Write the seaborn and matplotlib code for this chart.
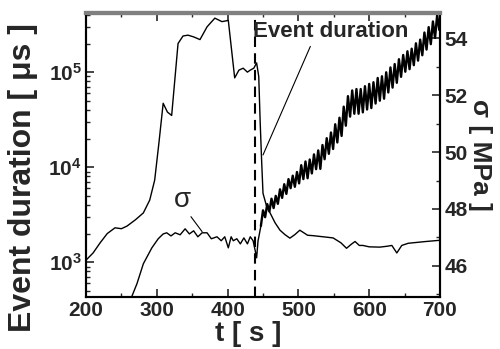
import matplotlib
matplotlib.use('Agg')
import matplotlib.pyplot as plt
from matplotlib.ticker import MultipleLocator, FixedLocator, LogLocator, NullFormatter
import pandas as pd
import seaborn as sns

sns.set_style('ticks')
plt.rcParams['font.family'] = ['Liberation Sans', 'DejaVu Sans']
plt.rcParams['mathtext.fontset'] = 'custom'
plt.rcParams['mathtext.rm'] = 'Liberation Sans'
plt.rcParams['mathtext.bf'] = 'Liberation Sans:bold'

# event duration (us), left log axis
dur_t = [200, 210, 220, 230, 241, 250, 258, 270, 281, 290, 297, 303, 309, 315, 321,
         330, 337, 344, 352, 361, 371, 382, 392, 401, 410, 416, 422, 428, 432, 437,
         441, 444, 446, 448, 450, 455, 460, 467, 474, 481, 488, 495, 502, 513, 521,
         535, 549, 560, 568, 575, 580, 586, 591, 600, 615, 625, 632, 639, 646, 655,
         662, 680, 700]
dur_us = [1050, 1250, 1600, 2000, 2300, 2250, 2400, 2800, 3300, 4500, 7300, 18000,
          47000, 38000, 35000, 200000, 240000, 245000, 235000, 220000, 300000, 370000,
          340000, 350000, 87000, 105000, 110000, 100000, 105000, 110000, 125000, 90000,
          30000, 12000, 5300, 3900, 3300, 2600, 2170, 1950, 1790, 1950, 2170, 1920, 1900,
          1850, 1800, 1600, 1400, 1550, 1650, 1500, 1500, 1450, 1440, 1470, 1500, 1250,
          1500, 1580, 1600, 1650, 1700]

# stress sigma (MPa), right axis: slow loading part, then the noisy rise
sig_t = [262, 272, 281, 293, 302, 309, 314, 320, 326, 333, 340, 346, 352, 358, 364,
         371, 377, 385, 391, 396, 401, 405, 408, 413, 418, 423, 428, 432, 436, 439,
         441, 443, 444, 447]
sig_mpa = [44.75, 45.37, 46.07, 46.63, 46.95, 47.12, 47.16, 47.05, 47.16, 47.09, 47.3,
           47.12, 47.23, 47.02, 47.16, 47.16, 46.95, 47.02, 46.88, 47.02, 46.63, 47.02,
           46.88, 46.95, 46.77, 46.98, 46.77, 47.02, 46.88, 46.53, 46.28, 46.88,
           47.0, 47.4]
rise_t = [447, 450, 453, 456, 459, 462, 465, 468, 471, 474, 477, 480, 483, 486,
          489, 492, 495, 498, 501, 504, 507, 510, 513, 516, 519, 522, 525, 528, 531,
          534, 537, 540, 543, 546, 549, 552, 555, 558, 561, 564, 567, 570, 573, 576,
          579, 582, 585, 588, 591, 594, 597, 600, 603, 606, 609, 612, 615, 618, 621,
          624, 627, 630, 633, 636, 639, 642, 645, 648, 651, 654, 657, 660, 663, 666,
          669, 672, 675, 678, 681, 684, 687, 690, 693, 696, 699]
rise_mpa = [47.4, 47.95, 47.71, 48.17, 47.91, 48.36, 48.03, 48.46, 48.18, 48.69,
            48.39, 48.87, 48.53, 49.05, 48.73, 49.17, 48.78, 49.3, 48.9, 49.54, 49.05,
            49.67, 49.08, 49.74, 49.25, 49.92, 49.4, 50.06, 49.41, 50.25, 49.75, 50.49,
            49.94, 50.69, 50.11, 50.98, 50.34, 51.21, 50.57, 51.6, 50.93, 51.97, 51.25,
            52.17, 51.35, 52.22, 51.35, 52.22, 51.4, 52.32, 51.5, 52.4, 51.55, 52.46,
            51.71, 52.61, 51.81, 52.67, 51.88, 52.81, 52.1, 52.98, 52.27, 53.1, 52.44,
            53.27, 52.65, 53.42, 52.83, 53.55, 52.92, 53.64, 53.06, 53.83, 53.22, 53.96,
            53.41, 54.21, 53.61, 54.4, 53.8, 54.6, 54.02, 54.83, 54.3]

event_t = 439
x_ticks = [200, 300, 400, 500, 600, 700]
dur_ticks = [1e3, 1e4, 1e5]
dur_tick_labels = [r'$\mathbf{10^{3}}$', r'$\mathbf{10^{4}}$', r'$\mathbf{10^{5}}$']
sig_ticks = [46, 48, 50, 52, 54]

dur = pd.DataFrame({'t': dur_t, 'dur': dur_us})
sig = pd.DataFrame({'t': sig_t, 'sig': sig_mpa})
rise = pd.DataFrame({'t': rise_t, 'sig': rise_mpa})

fig, ax = plt.subplots(figsize=(5, 3.49), dpi=100)
fig.subplots_adjust(left=0.172, right=0.88, bottom=0.149, top=0.963)
ax2 = ax.twinx()

sns.lineplot(data=dur, x='t', y='dur', ax=ax, color='black', lw=1.0, estimator=None)
sns.lineplot(data=sig, x='t', y='sig', ax=ax2, color='black', lw=1.0, estimator=None)
sns.lineplot(data=rise, x='t', y='sig', ax=ax2, color='black', lw=1.7, estimator=None)
ax.axvline(event_t, color='black', lw=1.5, ls=(0, (5, 3)))

ax.set_yscale('log')
ax.set_xlim(200, 700)
ax.set_ylim(430, 4.2e5)
ax2.set_ylim(44.9, 54.9)

ax.set_xticks(x_ticks)
ax.set_xticklabels([str(v) for v in x_ticks])
ax.xaxis.set_minor_locator(MultipleLocator(50))
ax.yaxis.set_major_locator(FixedLocator(dur_ticks))
ax.set_yticklabels(dur_tick_labels)
ax.yaxis.set_minor_locator(LogLocator(base=10, subs=range(2, 10)))
ax.yaxis.set_minor_formatter(NullFormatter())
ax2.set_yticks(sig_ticks)
ax2.set_yticklabels([str(v) for v in sig_ticks])
ax2.yaxis.set_minor_locator(MultipleLocator(1))

ax.tick_params(axis='both', which='major', direction='in', length=6, width=1.2,
               top=True, pad=3, labelsize=15)
ax.tick_params(axis='both', which='minor', direction='in', length=3, width=1, top=True)
ax2.tick_params(axis='y', which='major', direction='in', length=6, width=1.2, pad=3,
                labelsize=15)
ax2.tick_params(axis='y', which='minor', direction='in', length=3, width=1)
for lab in ax.get_xticklabels() + ax.get_yticklabels() + ax2.get_yticklabels():
    lab.set_fontweight('bold')

for a in (ax, ax2):
    for s in a.spines.values():
        s.set_linewidth(1.5)
        s.set_color('black')
    a.spines['top'].set_color('0.5')
    a.spines['top'].set_linewidth(3)

ax.set_xlabel('t [ s ]', fontsize=20, fontweight='bold')
ax.xaxis.set_label_coords(0.458, -0.083)
ax.set_ylabel('Event duration [ μs ]', fontsize=23, fontweight='bold')
ax.yaxis.set_label_coords(-0.135, 0.42)
ax2.set_ylabel('σ [ MPa ]', fontsize=19, fontweight='bold', rotation=270, va='bottom')
ax2.yaxis.set_label_coords(1.08, 0.5)

ax2.annotate('Event duration', xy=(450, 49.9), xytext=(546, 54.25), ha='center',
             va='center', fontsize=16, fontweight='bold',
             arrowprops=dict(arrowstyle='-', lw=0.8, color='black', relpos=(0.38, 0),
                             shrinkA=1, shrinkB=0))
ax2.annotate('σ', xy=(364, 47.2), xytext=(336, 48.3), ha='center', va='center',
             fontsize=20,
             arrowprops=dict(arrowstyle='-', lw=0.8, color='black', relpos=(0.75, 0.1),
                             shrinkA=0, shrinkB=0))

fig.savefig('out.png', dpi=100)
